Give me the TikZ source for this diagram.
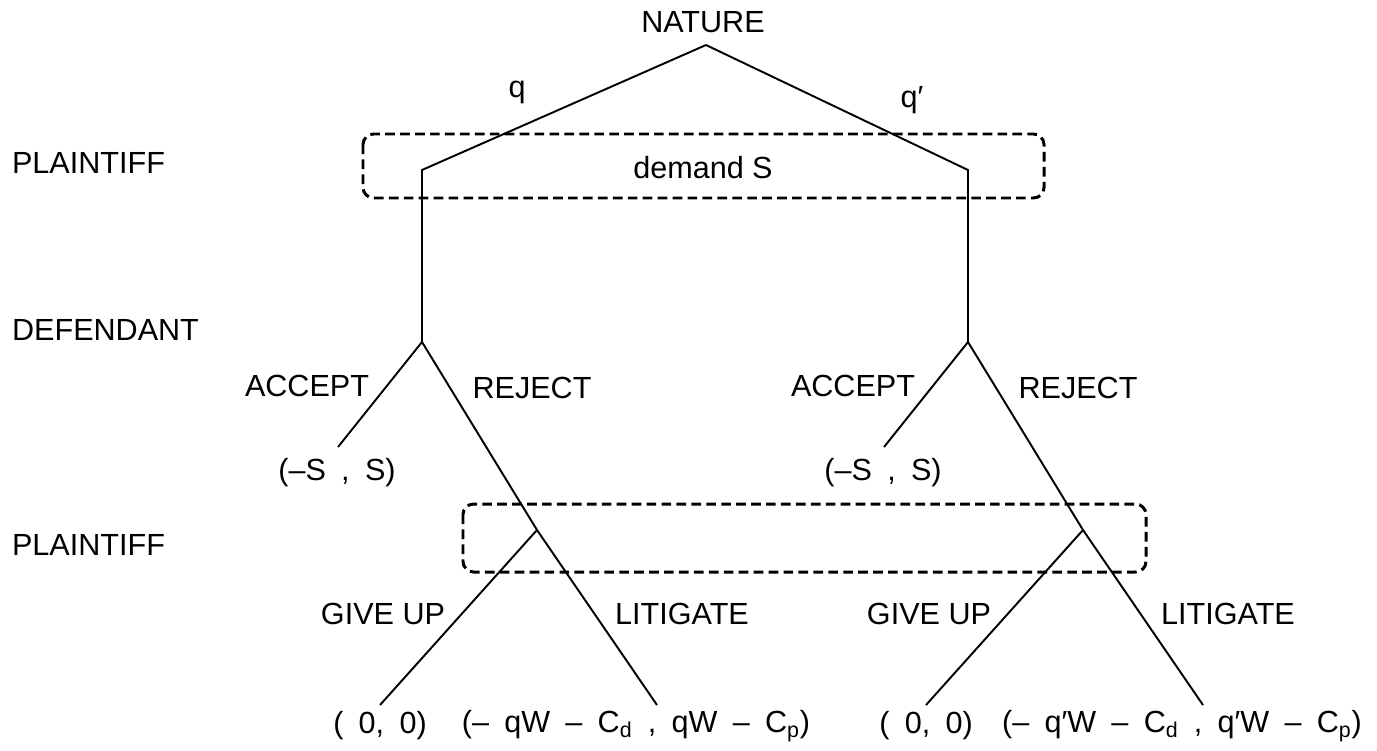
\documentclass[tikz,border=0pt]{standalone}
\usepackage{fontspec}
\setmainfont{Liberation Sans}
\newfontfamily\payfont[WordSpace=1.8]{Liberation Sans}
\usetikzlibrary{positioning}
\tikzset{
  lbl/.style={font=\fontsize{17.4}{21}\selectfont, inner sep=1pt},
  side/.style={lbl, anchor=west},
  pay/.style={lbl, font=\payfont\fontsize{17.4}{21}\selectfont},
  move/.style={line width=1.1pt},
  infoset/.style={draw, line width=1.7pt, dash pattern=on 5.5pt off 3pt, rounded corners=6pt},
}
\begin{document}
\begin{tikzpicture}[x=0.02cm, y=-0.02cm]
  \useasboundingbox (0,0) rectangle (1377,751);
  % players
  \node[side] (pl1) at (10,163) {PLAINTIFF};
  \node[side] (def) at (10,330) {DEFENDANT};
  \node[side] (pl2) at (10,545) {PLAINTIFF};
  % nature
  \node[lbl] (nature) at (703,22) {NATURE};
  \coordinate (root) at (706,45);
  \node[lbl] (q) at (517,92) {q};
  \node[lbl] (qq) at (912,100) {q′};
  % information sets
  \draw[infoset] (363,134) rectangle (1044,198);
  \node[lbl] (demand) at (703,168) {demand S};
  \draw[infoset] (463,504) rectangle (1146,572);
  % both branches
  \foreach \s/\dx/\pr in {L/0/{}, R/546/{′}}{
    \coordinate (plt\s) at (422+\dx,170);
    \coordinate (dfn\s) at (422+\dx,342);
    \coordinate (acc\s) at (338+\dx,447);
    \coordinate (pla\s) at (537+\dx,530);
    \coordinate (gup\s) at (380+\dx,705);
    \coordinate (lit\s) at (657+\dx,705);
    \draw[move] (root) -- (plt\s) -- (dfn\s);
    \draw[move] (dfn\s) -- (acc\s);
    \draw[move] (dfn\s) -- (pla\s) -- (gup\s);
    \draw[move] (pla\s) -- (lit\s);
    \node[lbl] (acclbl\s) at (307+\dx,386) {ACCEPT};
    \node[lbl] (rejlbl\s) at (532+\dx,388) {REJECT};
    \node[lbl] (gulbl\s) at (383+\dx,614) {GIVE UP};
    \node[lbl] (litlbl\s) at (682+\dx,614) {LITIGATE};
    \node[pay] (accpay\s) at (337+\dx,473) {(–S , S)};
    \node[pay] (gupay\s) at (380+\dx,726) {( 0, 0)};
    \node[pay] (litpay\s) at (636+\dx,726) {(– q\pr W – C\textsubscript{d} , q\pr W – C\textsubscript{p})};
  }
\end{tikzpicture}
\end{document}
